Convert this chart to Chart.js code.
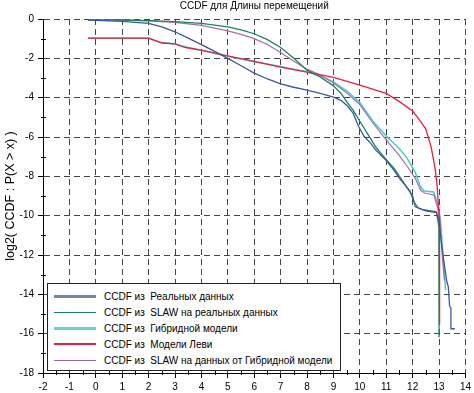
<!DOCTYPE html>
<html>
<head>
<meta charset="utf-8">
<script src="https://cdn.jsdelivr.net/npm/chart.js@4.4.1/dist/chart.umd.min.js"></script>
<style>
  body { margin: 0; background: #fff; }
  #wrap { position: relative; width: 474px; height: 393px; }
  #legend {
    position: absolute; left: 47px; top: 283px; width: 294px; height: 88px;
    border: 1px solid #222; background: #fff; box-sizing: border-box;
    font: 10px "Liberation Sans", Arial, sans-serif; color: #000;
    padding-top: 4px;
  }
  #legend .row { height: 16px; display: flex; align-items: center; }
  #legend .swatch { flex: 0 0 42px; margin-left: 6px; margin-right: 8px; }
  #legend .txt { white-space: pre; }
</style>
</head>
<body>
<div id="wrap">
  <canvas id="ccdf"></canvas>
  <div id="legend"></div>
</div>
<script>
// Curves, log2 of length vs log2 CCDF
const realX = [-0.3, 1, 2, 2.5, 3, 3.5, 4, 4.5, 5, 5.5, 6, 6.5, 7, 7.5, 8, 8.5, 9, 9.3, 9.55, 9.75, 9.95, 10.15, 10.4, 10.6, 11, 11.3, 11.5, 11.9, 12.05, 12.2, 12.5, 12.9, 13.0, 13.1, 13.2, 13.3, 13.35, 13.4, 13.45, 13.45, 13.6];
const realY = [-0.06, -0.12, -0.22, -0.4, -0.65, -0.97, -1.3, -1.65, -2.0, -2.38, -2.75, -3.05, -3.3, -3.47, -3.62, -3.78, -3.97, -4.15, -4.45, -4.8, -5.45, -5.95, -6.3, -6.65, -7.2, -7.7, -8.1, -8.75, -9.3, -9.6, -9.75, -9.85, -10.3, -11.5, -12.5, -13.4, -13.6, -14.6, -14.7, -15.75, -15.75];

const slawRealX = [-0.3, 1, 2, 3, 4, 5, 5.5, 6, 6.5, 7, 7.5, 8, 8.5, 9, 9.3, 9.5, 9.75, 10, 10.3, 10.6, 11, 11.3, 11.5, 11.8, 12.0, 12.1, 12.4, 12.9, 13.0, 13.0];
const slawRealY = [-0.04, -0.05, -0.08, -0.13, -0.22, -0.4, -0.55, -0.75, -1.05, -1.45, -2.0, -2.6, -2.95, -3.4, -3.8, -4.2, -4.65, -5.2, -5.85, -6.5, -7.15, -7.6, -8.0, -8.6, -9.0, -9.55, -9.7, -9.8, -10.6, -16.2];

const hybridX = [-0.3, 2, 2.5, 3, 3.5, 4, 5, 6, 7, 7.5, 8, 8.5, 9, 9.5, 10, 10.5, 11, 11.5, 11.8, 12.1, 12.3, 12.45, 12.8, 12.95, 13.05, 13.15, 13.25];
const hybridY = [-0.98, -0.98, -1.2, -1.27, -1.45, -1.6, -1.9, -2.17, -2.42, -2.55, -2.68, -2.9, -3.2, -3.65, -4.25, -5.2, -5.95, -6.6, -7.1, -7.8, -8.55, -8.75, -8.8, -9.4, -10.2, -12.0, -13.8];

const levyX = [-0.3, 2, 2.5, 3, 3.4, 4, 5, 6, 7, 8, 9, 10, 11, 11.5, 12, 12.3, 12.5, 12.7, 12.85, 12.93, 13.0, 13.02, 13.02];
const levyY = [-0.97, -0.97, -1.22, -1.27, -1.45, -1.58, -1.87, -2.15, -2.45, -2.7, -2.97, -3.36, -3.78, -4.2, -4.68, -5.2, -5.6, -6.5, -7.6, -8.5, -10.0, -12.0, -15.5];

const slawHybX = [-0.3, 1, 2, 3, 4, 5, 5.5, 6, 6.5, 7, 7.5, 8, 8.5, 9, 9.5, 10, 10.5, 11, 11.5, 11.8, 12.1, 12.3, 12.45, 12.8, 12.95, 13.05, 13.12, 13.2];
const slawHybY = [-0.05, -0.06, -0.1, -0.17, -0.32, -0.6, -0.78, -1.0, -1.3, -1.7, -2.15, -2.55, -2.85, -3.25, -3.75, -4.35, -5.3, -6.15, -6.95, -7.5, -8.1, -8.7, -8.85, -8.95, -9.6, -10.5, -12.0, -13.3];

const seriesNames = [
  'CCDF из  Реальных данных',
  'CCDF из  SLAW на реальных данных',
  'CCDF из  Гибридной модели',
  'CCDF из  Модели Леви',
  'CCDF из  SLAW на данных от Гибридной модели'
];

const lineColors = ['#3d58a4', '#17875a', '#3fcfcf', '#e8203c', '#b06aa6'];
const legendColors = ['#7484ac', '#17875a', '#5fd6d2', '#e8203c', '#9a6a94'];
const legendWidths = [3, 1.5, 3, 2, 1];

const toPoints = (xs, ys) => xs.map((x, i) => ({ x: x, y: ys[i] }));

const font = { family: '"Liberation Sans", Arial, sans-serif', size: 10 };

// small minor ticks on both axes
const minorTicks = {
  id: 'minorTicks',
  afterDraw(chart) {
    const { ctx, scales: { x, y } } = chart;
    ctx.save();
    ctx.strokeStyle = '#000';
    ctx.lineWidth = 1;
    ctx.beginPath();
    for (let v = -17; v < 0; v += 2) {
      const py = Math.round(y.getPixelForValue(v)) + 0.5;
      ctx.moveTo(x.left - 2, py);
      ctx.lineTo(x.left + 3, py);
    }
    for (let v = -1.5; v < 14; v += 1) {
      const px = Math.round(x.getPixelForValue(v)) + 0.5;
      ctx.moveTo(px, y.bottom - 3);
      ctx.lineTo(px, y.bottom + 2);
    }
    ctx.stroke();
    ctx.restore();
  }
};

const ctx = document.getElementById('ccdf');

new Chart(ctx, {
  type: 'scatter',
  data: {
    datasets: [
      { label: seriesNames[0], data: toPoints(realX, realY), borderColor: lineColors[0], borderWidth: 1.3, order: 1 },
      { label: seriesNames[1], data: toPoints(slawRealX, slawRealY), borderColor: lineColors[1], borderWidth: 1.3, order: 2 },
      { label: seriesNames[2], data: toPoints(hybridX, hybridY), borderColor: lineColors[2], borderWidth: 1.5, order: 5 },
      { label: seriesNames[3], data: toPoints(levyX, levyY), borderColor: lineColors[3], borderWidth: 1.3, order: 3 },
      { label: seriesNames[4], data: toPoints(slawHybX, slawHybY), borderColor: lineColors[4], borderWidth: 1.2, order: 4 },
    ].map(d => Object.assign(d, { showLine: true, pointRadius: 0, tension: 0, fill: false })),
  },
  options: {
    responsive: true,
    maintainAspectRatio: false,
    animation: false,
    layout: { padding: { right: 4 } },
    scales: {
      x: {
        type: 'linear',
        min: -2,
        max: 14,
        afterFit: (scale) => { scale.height = 20; },
        ticks: { stepSize: 1, color: '#000', font: font, padding: 3, maxRotation: 0 },
        grid: { color: '#444', tickColor: '#000', tickLength: 5, lineWidth: 1 },
        border: { color: '#000', width: 1, dash: [6, 4] },
      },
      y: {
        min: -18,
        max: 0,
        afterFit: (scale) => { scale.width = 43; },
        ticks: { stepSize: 2, color: '#000', font: font, padding: 4 },
        grid: { color: '#444', tickColor: '#000', tickLength: 5, lineWidth: 1 },
        border: { color: '#000', width: 1, dash: [6, 4] },
        title: {
          display: true,
          text: 'log2( CCDF : P(X > x) )',
          color: '#000',
          font: { family: '"Liberation Sans", Arial, sans-serif', size: 12.5 },
          padding: { top: 3, bottom: 0 },
        },
      },
    },
    plugins: {
      legend: { display: false },
      tooltip: { enabled: false },
      title: {
        display: true,
        text: 'CCDF для Длины перемещений',
        color: '#000',
        fullSize: false,
        font: { family: '"Liberation Sans", Arial, sans-serif', size: 10, weight: 'normal' },
        padding: { top: 0, bottom: 7 },
      },
    },
  },
  plugins: [minorTicks],
});

// Legend box inside the plot, as in the reference
const legend = document.getElementById('legend');
seriesNames.forEach((name, i) => {
  const row = document.createElement('div');
  row.className = 'row';
  const sw = document.createElement('div');
  sw.className = 'swatch';
  sw.style.borderTop = legendWidths[i] + 'px solid ' + legendColors[i];
  const txt = document.createElement('span');
  txt.className = 'txt';
  txt.textContent = name;
  row.appendChild(sw);
  row.appendChild(txt);
  legend.appendChild(row);
});
</script>
</body>
</html>
